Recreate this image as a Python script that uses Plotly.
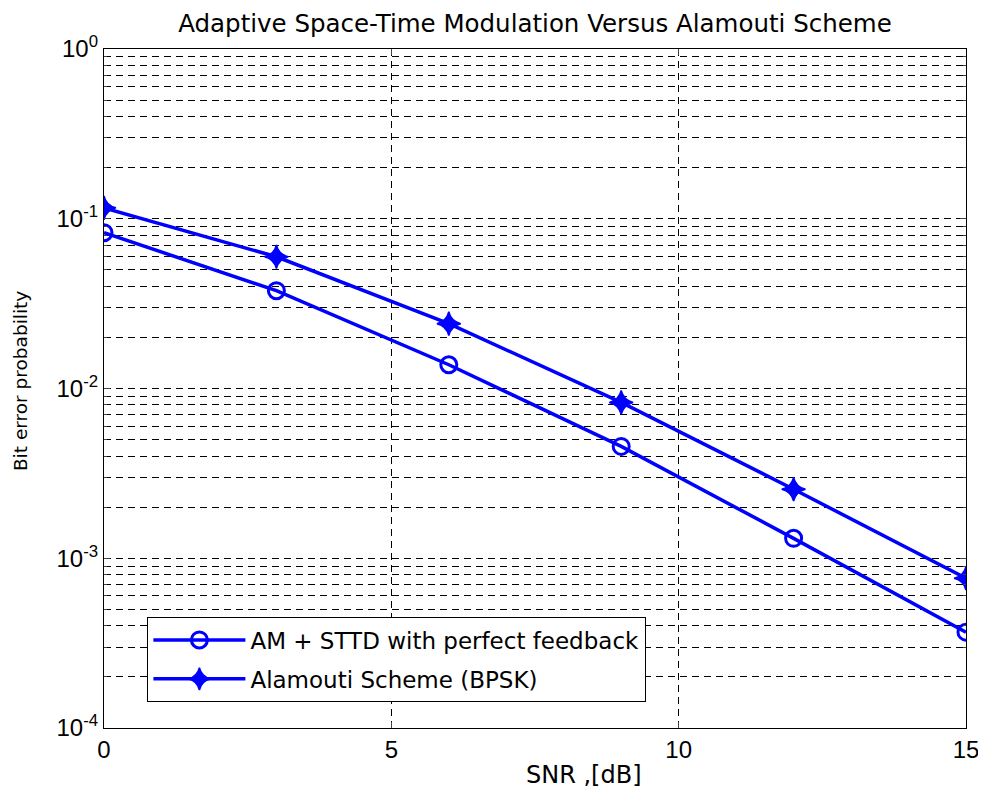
import plotly.graph_objects as go

snr = [0, 3, 6, 9, 12, 15]
ber_am = [0.0828, 0.0377, 0.0138, 0.00456, 0.00131, 0.000367]
ber_alamouti = [0.116, 0.0597, 0.0241, 0.00828, 0.00255, 0.000762]
names = ["AM + STTD with perfect feedback", "Alamouti Scheme (BPSK)"]
x_ticks = [0, 5, 10, 15]
y_ticks = [1e-4, 1e-3, 1e-2, 1e-1, 1]
y_ticktext = ["10<sup>-4</sup>", "10<sup>-3</sup>", "10<sup>-2</sup>", "10<sup>-1</sup>", "10<sup>0</sup>"]
title_text = "Adaptive Space-Time Modulation Versus Alamouti Scheme"
x_title = "SNR ,[dB]"
y_title = "Bit error probability"

FONT = "DejaVu Sans, Liberation Sans, Arial, sans-serif"
TICKFONT = "Liberation Sans, Arial, sans-serif"
blue = "#0000ff"

W, H = 970, 785
L, R, T, B = 96, 12, 41, 65
plot_h = H - T - B

fig = go.Figure()
fig.add_trace(go.Scatter(
    x=snr, y=ber_am, name=names[0], mode="lines+markers", legendgroup="a",
    line=dict(color=blue, width=3.5),
    marker=dict(symbol="circle-open", size=16, color=blue, line=dict(width=3, color=blue)),
))
fig.add_trace(go.Scatter(
    x=snr, y=ber_alamouti, name=names[1], mode="lines+markers", legendgroup="b",
    line=dict(color=blue, width=3.5),
    marker=dict(symbol="star-diamond", size=17, color=blue, line=dict(width=1.5, color=blue)),
))

fig.update_layout(
    width=W, height=H,
    margin=dict(l=L, r=R, t=T, b=B, autoexpand=False),
    paper_bgcolor="white", plot_bgcolor="white",
    font=dict(family=FONT, color="black", size=20),
    title=dict(text=title_text,
               x=(535 - 8) / W, xanchor="center", y=1 - 15 / H, yanchor="middle",
               font=dict(size=24.5, family=FONT)),
    legend=dict(x=0.05, y=0.038, xanchor="left", yanchor="bottom",
                bgcolor="white", bordercolor="black", borderwidth=1.3,
                font=dict(size=23, family=FONT), tracegroupgap=6,
                itemwidth=92),
    showlegend=True,
    annotations=[
        dict(text=x_title, xref="paper", yref="paper", x=0.557, y=-(767 - (H - B)) / plot_h,
             xanchor="center", yanchor="middle", showarrow=False,
             font=dict(size=24, family=FONT)),
        dict(text=y_title, xref="paper", yref="paper", x=-0.0974, y=0.511,
             xanchor="center", yanchor="middle", showarrow=False, textangle=-90,
             font=dict(size=18.5, family=FONT)),
    ],
)
grid_common = dict(showgrid=True, gridcolor="black", griddash="7px,5px", gridwidth=0.8)
fig.update_xaxes(
    range=[0, 15], tickvals=x_ticks, ticks="inside", ticklen=6,
    showline=True, linecolor="black", linewidth=1.3, mirror="ticks",
    zeroline=False, tickfont=dict(size=24, family=TICKFONT),
    ticklabeloverflow="allow", automargin=False,
    **grid_common,
)
fig.update_yaxes(
    type="log", range=[-4, 0], tickvals=y_ticks, ticktext=y_ticktext,
    ticks="inside", ticklen=6,
    showline=True, linecolor="black", linewidth=1.3, mirror="ticks",
    minor=dict(ticks="inside", ticklen=3, showgrid=True, gridcolor="black",
               griddash="7px,5px", gridwidth=0.7, dtick="D1"),
    zeroline=False, tickfont=dict(size=24, family=TICKFONT), automargin=False,
    **grid_common,
)

fig.write_html("out.html")
